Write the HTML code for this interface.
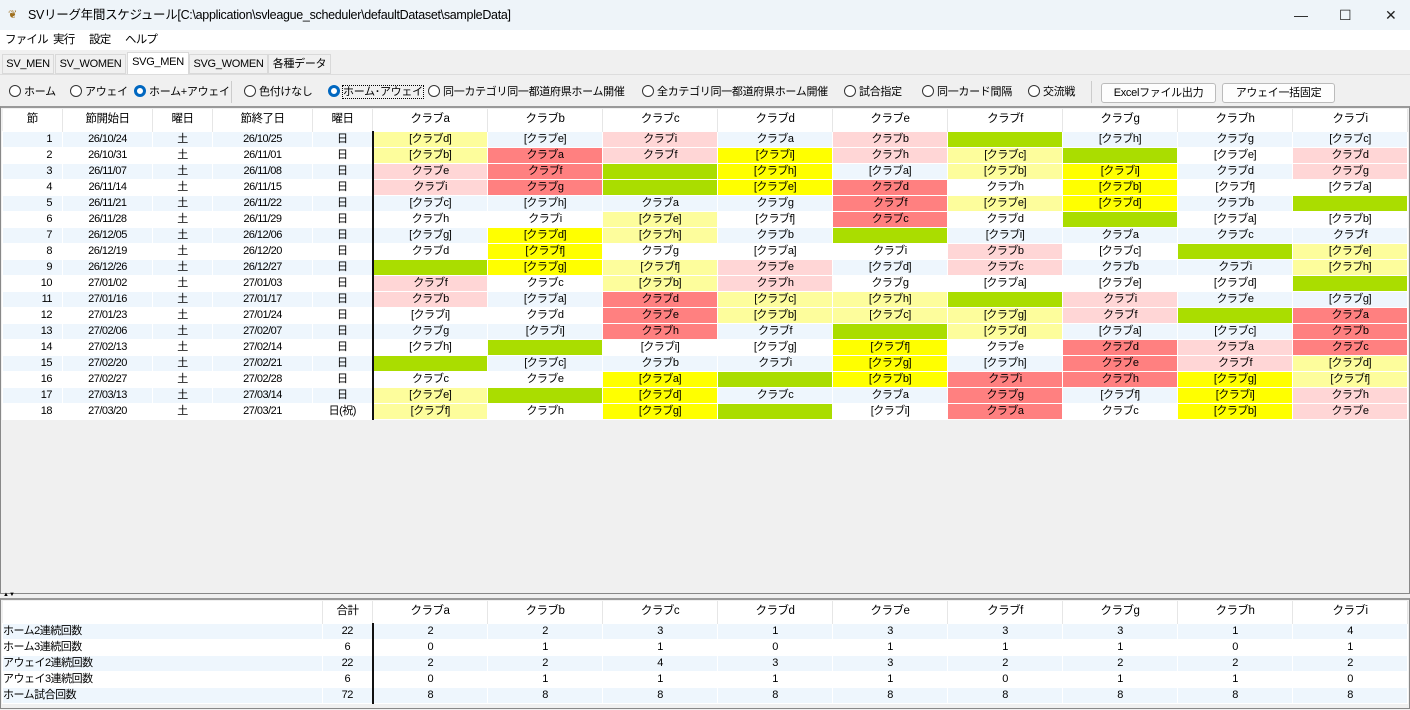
<!DOCTYPE html>
<html><head><meta charset="utf-8"><style>
*{box-sizing:border-box;margin:0;padding:0}
body{width:1410px;height:710px;overflow:hidden;background:#f0f0f0;font-family:"Liberation Sans","Noto Sans CJK JP",sans-serif;font-size:12px;color:#000;position:relative}
.title{position:absolute;left:0;top:0;width:1410px;height:30px;background:#eef4f9;font-size:12.5px;line-height:30px;padding-left:28px;letter-spacing:-0.3px}
.title .ic{position:absolute;left:8px;top:9px;color:#a07020;font-size:11px;line-height:12px}
.wc{position:absolute;top:0;font-size:14px;line-height:30px;color:#222}
.menu{position:absolute;left:0;top:30px;width:1410px;height:20px;background:#fff;font-size:11.5px;line-height:20px;letter-spacing:-0.8px}
.menu span{position:absolute;top:0}
.tabs{position:absolute;left:0;top:52px;height:22px;font-size:11px;letter-spacing:-0.3px}
.tab{position:absolute;top:2px;height:20px;line-height:19px;text-align:center;border:1px solid #d9d9d9;background:#f0f0f0;white-space:nowrap;overflow:hidden}
.tab.sel{top:0;height:22px;background:#fff;border-bottom:none}
.tb{position:absolute;left:0;top:74px;width:1410px;height:32px;background:#f0f0f0;font-size:11px;letter-spacing:-0.3px;border-top:1px solid #ddd}
.tb .r{position:absolute;top:9px;height:16px;line-height:16px;white-space:nowrap}
.tb .r i{display:inline-block;width:12px;height:12px;border:1px solid #333;border-radius:50%;vertical-align:-2px;margin-right:3px;background:#fff}
.tb .r i.on{border:3.5px solid #0067c0}
.btn{position:absolute;top:8px;height:20px;border:1px solid #bbb;border-radius:3px;background:#fdfdfd;text-align:center;line-height:18px}
.sep{position:absolute;top:6px;width:1px;height:22px;background:#ccc}
.grid{position:absolute;left:0;top:106px;width:1410px;height:488px;border:1px solid #888;border-top:2px solid #999;background:#f0f0f0}
.grid2{position:absolute;left:0;top:598px;width:1410px;height:111px;border:1px solid #888;border-top:2px solid #999;background:#f0f0f0}
table{border-collapse:collapse;table-layout:fixed;position:absolute;left:1px;top:1px}
td{height:16px;line-height:15px;text-align:center;border:1px solid #fff;white-space:nowrap;overflow:hidden;padding:0;font-size:11px;letter-spacing:-0.5px}
tr.h td{height:22px;line-height:21px;background:#fff;border:none;border-right:1px solid #e6e6e6;font-size:11.5px}
tr.o td{background:#eef6fd}
tr td.b{border-left:2px solid #111}
tr td.y{background:#fdfd9c}
tr td.Y{background:#ffff00}
tr td.p{background:#ffd6d6}
tr td.r{background:#ff8080}
tr td.g{background:#aadd00}
tr td.l{text-align:left}
.split{position:absolute;left:3px;top:592px;font-size:6px;line-height:6px}
</style></head><body>
<div class="title"><span class="ic">❦</span>SVリーグ年間スケジュール[C:\application\svleague_scheduler\defaultDataset\sampleData]</div>
<div class="wc" style="left:1294px">—</div><div class="wc" style="left:1339px">☐</div><div class="wc" style="left:1385px">✕</div>
<div class="menu"><span style="left:5px">ファイル</span><span style="left:53px">実行</span><span style="left:89px">設定</span><span style="left:125px">ヘルプ</span></div>
<div class="tabs">
<div class="tab" style="left:2px;width:52px">SV_MEN</div>
<div class="tab" style="left:55px;width:71px">SV_WOMEN</div>
<div class="tab sel" style="left:127px;width:62px">SVG_MEN</div>
<div class="tab" style="left:189px;width:79px">SVG_WOMEN</div>
<div class="tab" style="left:268px;width:63px">各種データ</div>
</div>
<div class="tb">
<div class="r" style="left:9px"><i></i>ホーム</div>
<div class="r" style="left:70px"><i></i>アウェイ</div>
<div class="r" style="left:134px"><i class="on"></i>ホーム+アウェイ</div>
<div class="sep" style="left:231px"></div>
<div class="r" style="left:244px"><i></i>色付けなし</div>
<div class="r" style="left:328px"><i class="on"></i><span style="outline:1px dotted #000">ホーム･アウェイ</span></div>
<div class="r" style="left:428px"><i></i>同一カテゴリ同一都道府県ホーム開催</div>
<div class="r" style="left:642px"><i></i>全カテゴリ同一都道府県ホーム開催</div>
<div class="r" style="left:844px"><i></i>試合指定</div>
<div class="r" style="left:922px"><i></i>同一カード間隔</div>
<div class="r" style="left:1028px"><i></i>交流戦</div>
<div class="sep" style="left:1091px"></div>
<div class="btn" style="left:1101px;width:115px">Excelファイル出力</div>
<div class="btn" style="left:1222px;width:113px">アウェイ一括固定</div>
</div>
<div class="grid"><table>
<colgroup><col style="width:60px"><col style="width:90px"><col style="width:60px"><col style="width:100px"><col style="width:60px"><col style="width:115px"><col style="width:115px"><col style="width:115px"><col style="width:115px"><col style="width:115px"><col style="width:115px"><col style="width:115px"><col style="width:115px"><col style="width:115px"></colgroup>
<tr class="h"><td>節</td><td>節開始日</td><td>曜日</td><td>節終了日</td><td>曜日</td><td>クラブa</td><td>クラブb</td><td>クラブc</td><td>クラブd</td><td>クラブe</td><td>クラブf</td><td>クラブg</td><td>クラブh</td><td>クラブi</td></tr>
<tr class="o"><td style="text-align:right;padding-right:10px">1</td><td>26/10/24</td><td>土</td><td>26/10/25</td><td>日</td><td class="b y">[クラブd]</td><td>[クラブe]</td><td class="p">クラブi</td><td>クラブa</td><td class="p">クラブb</td><td class="g"></td><td>[クラブh]</td><td>クラブg</td><td>[クラブc]</td></tr>
<tr><td style="text-align:right;padding-right:10px">2</td><td>26/10/31</td><td>土</td><td>26/11/01</td><td>日</td><td class="b y">[クラブb]</td><td class="r">クラブa</td><td class="p">クラブf</td><td class="Y">[クラブi]</td><td class="p">クラブh</td><td class="y">[クラブc]</td><td class="g"></td><td>[クラブe]</td><td class="p">クラブd</td></tr>
<tr class="o"><td style="text-align:right;padding-right:10px">3</td><td>26/11/07</td><td>土</td><td>26/11/08</td><td>日</td><td class="b p">クラブe</td><td class="r">クラブf</td><td class="g"></td><td class="Y">[クラブh]</td><td>[クラブa]</td><td class="y">[クラブb]</td><td class="Y">[クラブi]</td><td>クラブd</td><td class="p">クラブg</td></tr>
<tr><td style="text-align:right;padding-right:10px">4</td><td>26/11/14</td><td>土</td><td>26/11/15</td><td>日</td><td class="b p">クラブi</td><td class="r">クラブg</td><td class="g"></td><td class="Y">[クラブe]</td><td class="r">クラブd</td><td>クラブh</td><td class="Y">[クラブb]</td><td>[クラブf]</td><td>[クラブa]</td></tr>
<tr class="o"><td style="text-align:right;padding-right:10px">5</td><td>26/11/21</td><td>土</td><td>26/11/22</td><td>日</td><td class="b">[クラブc]</td><td>[クラブh]</td><td>クラブa</td><td>クラブg</td><td class="r">クラブf</td><td class="y">[クラブe]</td><td class="Y">[クラブd]</td><td>クラブb</td><td class="g"></td></tr>
<tr><td style="text-align:right;padding-right:10px">6</td><td>26/11/28</td><td>土</td><td>26/11/29</td><td>日</td><td class="b">クラブh</td><td>クラブi</td><td class="y">[クラブe]</td><td>[クラブf]</td><td class="r">クラブc</td><td>クラブd</td><td class="g"></td><td>[クラブa]</td><td>[クラブb]</td></tr>
<tr class="o"><td style="text-align:right;padding-right:10px">7</td><td>26/12/05</td><td>土</td><td>26/12/06</td><td>日</td><td class="b">[クラブg]</td><td class="Y">[クラブd]</td><td class="y">[クラブh]</td><td>クラブb</td><td class="g"></td><td>[クラブi]</td><td>クラブa</td><td>クラブc</td><td>クラブf</td></tr>
<tr><td style="text-align:right;padding-right:10px">8</td><td>26/12/19</td><td>土</td><td>26/12/20</td><td>日</td><td class="b">クラブd</td><td class="Y">[クラブf]</td><td>クラブg</td><td>[クラブa]</td><td>クラブi</td><td class="p">クラブb</td><td>[クラブc]</td><td class="g"></td><td class="y">[クラブe]</td></tr>
<tr class="o"><td style="text-align:right;padding-right:10px">9</td><td>26/12/26</td><td>土</td><td>26/12/27</td><td>日</td><td class="b g"></td><td class="Y">[クラブg]</td><td class="y">[クラブf]</td><td class="p">クラブe</td><td>[クラブd]</td><td class="p">クラブc</td><td>クラブb</td><td>クラブi</td><td class="y">[クラブh]</td></tr>
<tr><td style="text-align:right;padding-right:10px">10</td><td>27/01/02</td><td>土</td><td>27/01/03</td><td>日</td><td class="b p">クラブf</td><td>クラブc</td><td class="y">[クラブb]</td><td class="p">クラブh</td><td>クラブg</td><td>[クラブa]</td><td>[クラブe]</td><td>[クラブd]</td><td class="g"></td></tr>
<tr class="o"><td style="text-align:right;padding-right:10px">11</td><td>27/01/16</td><td>土</td><td>27/01/17</td><td>日</td><td class="b p">クラブb</td><td>[クラブa]</td><td class="r">クラブd</td><td class="y">[クラブc]</td><td class="y">[クラブh]</td><td class="g"></td><td class="p">クラブi</td><td>クラブe</td><td>[クラブg]</td></tr>
<tr><td style="text-align:right;padding-right:10px">12</td><td>27/01/23</td><td>土</td><td>27/01/24</td><td>日</td><td class="b">[クラブi]</td><td>クラブd</td><td class="r">クラブe</td><td class="y">[クラブb]</td><td class="y">[クラブc]</td><td class="y">[クラブg]</td><td class="p">クラブf</td><td class="g"></td><td class="r">クラブa</td></tr>
<tr class="o"><td style="text-align:right;padding-right:10px">13</td><td>27/02/06</td><td>土</td><td>27/02/07</td><td>日</td><td class="b">クラブg</td><td>[クラブi]</td><td class="r">クラブh</td><td>クラブf</td><td class="g"></td><td class="y">[クラブd]</td><td>[クラブa]</td><td>[クラブc]</td><td class="r">クラブb</td></tr>
<tr><td style="text-align:right;padding-right:10px">14</td><td>27/02/13</td><td>土</td><td>27/02/14</td><td>日</td><td class="b">[クラブh]</td><td class="g"></td><td>[クラブi]</td><td>[クラブg]</td><td class="Y">[クラブf]</td><td>クラブe</td><td class="r">クラブd</td><td class="p">クラブa</td><td class="r">クラブc</td></tr>
<tr class="o"><td style="text-align:right;padding-right:10px">15</td><td>27/02/20</td><td>土</td><td>27/02/21</td><td>日</td><td class="b g"></td><td>[クラブc]</td><td>クラブb</td><td>クラブi</td><td class="Y">[クラブg]</td><td>[クラブh]</td><td class="r">クラブe</td><td class="p">クラブf</td><td class="y">[クラブd]</td></tr>
<tr><td style="text-align:right;padding-right:10px">16</td><td>27/02/27</td><td>土</td><td>27/02/28</td><td>日</td><td class="b">クラブc</td><td>クラブe</td><td class="Y">[クラブa]</td><td class="g"></td><td class="Y">[クラブb]</td><td class="r">クラブi</td><td class="r">クラブh</td><td class="Y">[クラブg]</td><td class="y">[クラブf]</td></tr>
<tr class="o"><td style="text-align:right;padding-right:10px">17</td><td>27/03/13</td><td>土</td><td>27/03/14</td><td>日</td><td class="b y">[クラブe]</td><td class="g"></td><td class="Y">[クラブd]</td><td>クラブc</td><td>クラブa</td><td class="r">クラブg</td><td>[クラブf]</td><td class="Y">[クラブi]</td><td class="p">クラブh</td></tr>
<tr><td style="text-align:right;padding-right:10px">18</td><td>27/03/20</td><td>土</td><td>27/03/21</td><td>日(祝)</td><td class="b y">[クラブf]</td><td>クラブh</td><td class="Y">[クラブg]</td><td class="g"></td><td>[クラブi]</td><td class="r">クラブa</td><td>クラブc</td><td class="Y">[クラブb]</td><td class="p">クラブe</td></tr>
</table></div>
<div class="split">▲▼</div>
<div class="grid2"><table>
<colgroup><col style="width:320px"><col style="width:50px"><col style="width:115px"><col style="width:115px"><col style="width:115px"><col style="width:115px"><col style="width:115px"><col style="width:115px"><col style="width:115px"><col style="width:115px"><col style="width:115px"></colgroup>
<tr class="h"><td></td><td>合計</td><td>クラブa</td><td>クラブb</td><td>クラブc</td><td>クラブd</td><td>クラブe</td><td>クラブf</td><td>クラブg</td><td>クラブh</td><td>クラブi</td></tr>
<tr class="o"><td class="l">ホーム2連続回数</td><td>22</td><td class="b">2</td><td>2</td><td>3</td><td>1</td><td>3</td><td>3</td><td>3</td><td>1</td><td>4</td></tr>
<tr><td class="l">ホーム3連続回数</td><td>6</td><td class="b">0</td><td>1</td><td>1</td><td>0</td><td>1</td><td>1</td><td>1</td><td>0</td><td>1</td></tr>
<tr class="o"><td class="l">アウェイ2連続回数</td><td>22</td><td class="b">2</td><td>2</td><td>4</td><td>3</td><td>3</td><td>2</td><td>2</td><td>2</td><td>2</td></tr>
<tr><td class="l">アウェイ3連続回数</td><td>6</td><td class="b">0</td><td>1</td><td>1</td><td>1</td><td>1</td><td>0</td><td>1</td><td>1</td><td>0</td></tr>
<tr class="o"><td class="l">ホーム試合回数</td><td>72</td><td class="b">8</td><td>8</td><td>8</td><td>8</td><td>8</td><td>8</td><td>8</td><td>8</td><td>8</td></tr>
</table></div>
<style>.grid tr:not(.o):not(.h) td:not(.y):not(.Y):not(.p):not(.r):not(.g),.grid2 tr:not(.o):not(.h) td{background:#fff}</style>
</body></html>
